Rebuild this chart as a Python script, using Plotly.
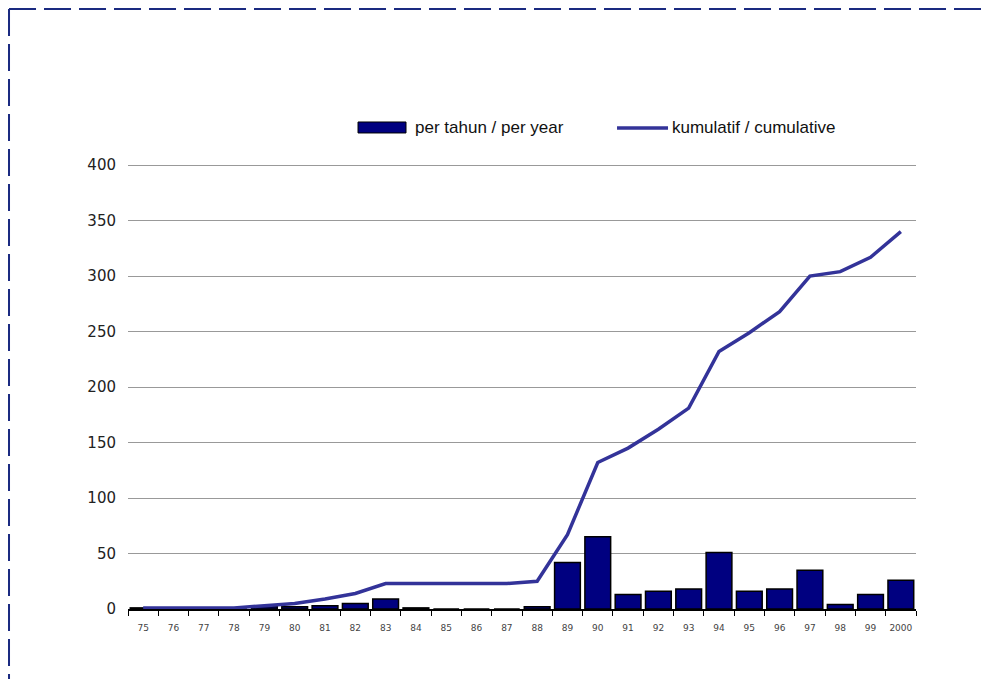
import plotly.graph_objects as go

years = ["75", "76", "77", "78", "79", "80", "81", "82", "83", "84", "85", "86", "87",
         "88", "89", "90", "91", "92", "93", "94", "95", "96", "97", "98", "99", "2000"]
per_year = [1, 0, 0, 0, 2, 2, 3, 5, 9, 1, 0, 0, 0,
            2, 42, 65, 13, 16, 18, 51, 16, 18, 35, 4, 13, 26]
cumulative = [1, 1, 1, 1, 3, 5, 9, 14, 23, 23, 23, 23, 23,
              25, 67, 132, 145, 162, 181, 232, 249, 268, 300, 304, 317, 340]

BAR_COLOR = "#000080"
LINE_COLOR = "#333399"
FRAME_COLOR = "#1a2a80"

fig = go.Figure()

# Bars per year
fig.add_trace(go.Bar(
    x=years, y=per_year,
    name="per tahun / per year",
    marker=dict(color=BAR_COLOR, line=dict(color="#000000", width=1.5)),
))

# Cumulative line
fig.add_trace(go.Scatter(
    x=years, y=cumulative,
    mode="lines",
    name="kumulatif / cumulative",
    line=dict(color=LINE_COLOR, width=3.5),
))

# Dashed frame around the chart (runs off the right and bottom edges)
fig.add_shape(type="line", xref="paper", yref="paper",
              x0=-0.1510, x1=1.12, y0=1.3483, y1=1.3483,
              line=dict(color=FRAME_COLOR, width=2, dash="27px,8px"))
fig.add_shape(type="line", xref="paper", yref="paper",
              x0=-0.1510, x1=-0.1510, y0=1.3483, y1=-0.25,
              line=dict(color=FRAME_COLOR, width=2, dash="27px,8px"))

# Hand-drawn legend (wide bar swatch like the original)
fig.add_shape(type="rect", xref="paper", yref="paper",
              x0=0.2919, x1=0.3528, y0=1.0697, y1=1.0944,
              fillcolor=BAR_COLOR, line=dict(color="#000000", width=1))
fig.add_shape(type="line", xref="paper", yref="paper",
              x0=0.6206, x1=0.6853, y0=1.0809, y1=1.0809,
              line=dict(color=LINE_COLOR, width=3.5))
legend_font = dict(family="Liberation Sans, Arial", size=17, color="#111111")
fig.add_annotation(xref="paper", yref="paper", x=0.3617, y=1.0809,
                   xanchor="left", yanchor="middle", showarrow=False,
                   text="per tahun / per year", font=legend_font)
fig.add_annotation(xref="paper", yref="paper", x=0.6878, y=1.0809,
                   xanchor="left", yanchor="middle", showarrow=False,
                   text="kumulatif / cumulative", font=legend_font)

fig.update_layout(
    width=981, height=671,
    margin=dict(l=120, r=73, t=156, b=70),
    plot_bgcolor="white",
    paper_bgcolor="white",
    bargap=0.15,
    showlegend=False,
    xaxis=dict(
        type="category",
        showline=True, linecolor="#000000", linewidth=2,
        ticks="outside", tickson="boundaries", ticklen=5, tickcolor="#000000",
        tickangle=0, ticklabelstandoff=9,
        tickfont=dict(family="DejaVu Sans", size=9, color="#444444"),
        showgrid=False,
    ),
    yaxis=dict(
        range=[0, 401], tickvals=[0, 50, 100, 150, 200, 250, 300, 350, 400],
        showgrid=True, gridcolor="#999999", gridwidth=1,
        zeroline=False, showline=False,
        ticks="outside", ticklen=8, tickcolor="rgba(0,0,0,0)",
        tickfont=dict(family="DejaVu Sans", size=15, color="#222222"),
    ),
)

fig.write_html("out.html")
